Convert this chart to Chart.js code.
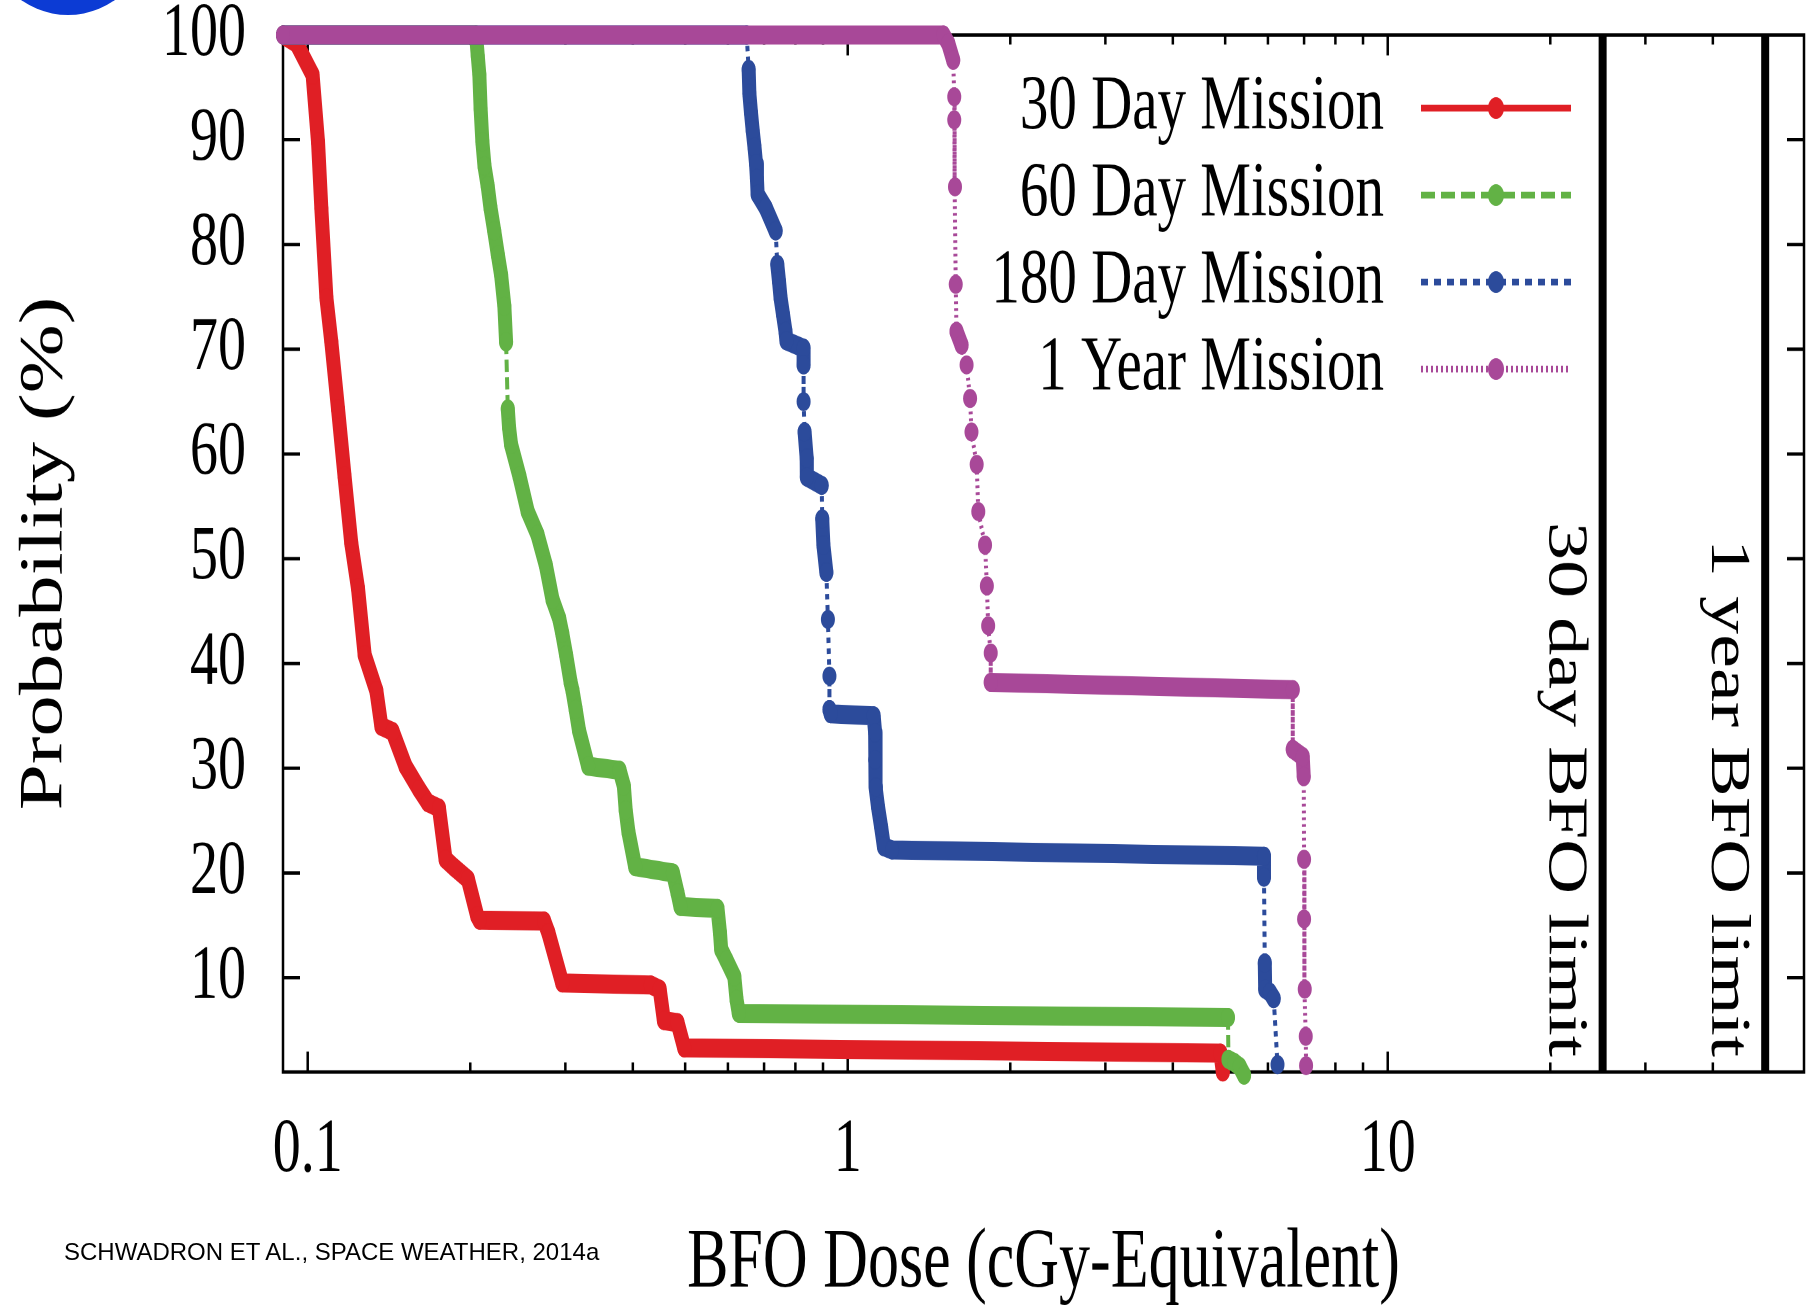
<!DOCTYPE html>
<html>
<head>
<meta charset="utf-8">
<title>BFO Dose probability</title>
<script src="https://cdn.jsdelivr.net/npm/chart.js@4/dist/chart.umd.min.js"></script>
<style>
    html, body { margin: 0; padding: 0; background: #fff; overflow: hidden; }
    #page { position: relative; width: 1811px; height: 1309px; overflow: hidden; }
    /* the original figure is stretched vertically, so the chart is drawn short and scaled up */
    #stretch { position: absolute; left: 0; top: 0; width: 1811px; height: 963px;
               transform: scaleY(1.3593); transform-origin: 0 0; }
    #logo { position: absolute; left: -13px; top: -147px; width: 162px; height: 162px;
            border-radius: 50%; background: #0c3bd4; }
    #source { position: absolute; left: 64px; top: 1238px; line-height: 24px;
              font: 24px "Liberation Sans", Arial, sans-serif; color: #000; white-space: nowrap; }
</style>
</head>
<body>
<div id="page">
    <div id="logo"></div>
    <div id="stretch"><canvas id="chart"></canvas></div>
    <div id="source">SCHWADRON ET AL., SPACE WEATHER, 2014a</div>
</div>
<script>
// Data (dose in cGy-Eq, probability in %)
const dose30 = [0.09, 0.0953, 0.1021, 0.1045, 0.106, 0.1083, 0.1106, 0.1138, 0.117, 0.1204, 0.1239, 0.1275, 0.134, 0.1369, 0.1436, 0.1517, 0.1608, 0.167, 0.175, 0.18, 0.187, 0.198, 0.206, 0.208, 0.274, 0.279, 0.296, 0.432, 0.4485, 0.4567, 0.484, 0.498, 4.9, 4.95];
const prob30 = [100, 99.2, 96.2, 89.8, 83.4, 74.9, 70.7, 64.3, 57.9, 51.5, 47.2, 40.8, 37.4, 34.0, 33.5, 30.2, 28.0, 26.7, 26.2, 21.3, 20.5, 19.4, 15.9, 15.5, 15.4, 14.3, 9.5, 9.3, 8.9, 5.9, 5.7, 3.3, 2.8, 1.0];

const dose60 = [0.09, 0.205, 0.2065, 0.2079, 0.209, 0.2106, 0.2125, 0.2154, 0.218, 0.2215, 0.225, 0.2281, 0.2313, 0.233, 0.2347, 0.236, 0.238, 0.2466, 0.2555, 0.2664, 0.276, 0.284, 0.2922, 0.296, 0.301, 0.3068, 0.3093, 0.3135, 0.318, 0.3306, 0.378, 0.385, 0.388, 0.3926, 0.404, 0.4746, 0.484, 0.49, 0.574, 0.58, 0.583, 0.596, 0.6166, 0.6225, 0.6285, 5.06, 5.07, 5.2, 5.32, 5.42];
const prob60 = [100, 100, 98, 96.2, 93, 89.8, 87.5, 85.6, 83.5, 81.3, 79, 77.1, 74.1, 70.7, 64.3, 62.5, 60.9, 57.9, 54.5, 52.3, 49.4, 46.1, 44.3, 42.9, 40.8, 38.2, 37.4, 35.6, 33.6, 30.2, 29.8, 28.3, 26, 23.9, 20.6, 20.0, 18.1, 16.8, 16.6, 14.3, 12.7, 11.7, 10.1, 7.9, 6.6, 6.2, 2.2, 1.9, 1.5, 0.7];

const dose180 = [0.09, 0.65, 0.6555, 0.6575, 0.662, 0.6668, 0.672, 0.6765, 0.679, 0.681, 0.705, 0.7355, 0.7405, 0.746, 0.751, 0.759, 0.767, 0.77, 0.8285, 0.8285, 0.8285, 0.832, 0.8395, 0.84, 0.895, 0.897, 0.9015, 0.913, 0.919, 0.925, 0.925, 0.93, 1.117, 1.124, 1.124, 1.128, 1.138, 1.153, 1.167, 1.208, 5.9, 5.9, 5.92, 5.93, 6.05, 6.15, 6.25];
const prob180 = [100, 100, 96.7, 94.4, 92.6, 90.9, 89.3, 87.7, 86.3, 84.8, 83.5, 81.3, 78.1, 76.5, 74.9, 73.3, 71.7, 70.8, 70.1, 68.5, 65.0, 62.1, 59.6, 57.8, 57.0, 53.8, 51.3, 48.7, 44.2, 38.8, 35.6, 35.2, 35.0, 33.4, 30.8, 28.2, 26.3, 24.4, 22.5, 22.2, 21.6, 19.6, 11.4, 8.9, 8.6, 8.0, 1.7];

const dose1yr = [0.09, 1.504, 1.535, 1.568, 1.575, 1.575, 1.58, 1.585, 1.59, 1.625, 1.66, 1.685, 1.695, 1.733, 1.745, 1.796, 1.81, 1.82, 1.84, 1.84, 6.67, 6.67, 6.96, 6.99, 7.0, 7.0, 7.02, 7.05, 7.06];
const prob1yr = [100, 100, 99.2, 97.6, 94.1, 91.9, 85.5, 76.2, 71.7, 70.4, 68.5, 65.3, 62.1, 59.0, 54.5, 51.3, 47.4, 43.6, 41.0, 38.2, 37.5, 31.8, 31.1, 29.2, 21.3, 15.6, 8.9, 4.4, 1.6];

const missionLabels = ['30 Day Mission', '60 Day Mission', '180 Day Mission', '1 Year Mission'];
const missionColors = ['#e01f25', '#62b245', '#2c4b9b', '#a84898'];

const xTickValues = [0.1, 0.2, 0.3, 0.4, 0.5, 0.6, 0.7, 0.8, 0.9, 1, 2, 3, 4, 5, 6, 7, 8, 9, 10, 20, 30, 40, 50];
const yTickValues = [10, 20, 30, 40, 50, 60, 70, 80, 90, 100];

const limitDoses = [25, 50];
const limitLabels = ['30 day BFO limit', '1 year BFO limit'];

const SERIF = '"Liberation Serif", "Times New Roman", serif';
const THICK = 14;
const THIN = 4;

const isDecade = v => Math.abs(Math.log10(v) - Math.round(Math.log10(v))) < 1e-9;

// dense runs of points look like a thick line, long vertical jumps show the thin dashed line
function isThin(ctx, gap) {
    const dx = Math.abs(ctx.p1.x - ctx.p0.x);
    const dy = Math.abs(ctx.p1.y - ctx.p0.y);
    return dy > 2 * dx && Math.hypot(dx, dy) > gap;
}

function makeDataset(i, doses, probs, gap, dash, order) {
    return {
        label: missionLabels[i],
        data: doses.map((d, k) => ({ x: d, y: probs[k] })),
        borderColor: missionColors[i],
        backgroundColor: missionColors[i],
        borderWidth: THICK,
        borderCapStyle: 'round',
        borderJoinStyle: 'round',
        pointRadius: 7,
        pointBorderWidth: 0,
        pointBackgroundColor: missionColors[i],
        clip: false,
        order: order,
        segment: {
            borderWidth: ctx => isThin(ctx, gap) ? THIN : THICK,
            borderDash: ctx => isThin(ctx, gap) ? dash : [],
            borderCapStyle: ctx => isThin(ctx, gap) ? 'butt' : 'round'
        }
    };
}

const legendDashes = [[], [14, 6], [7, 6], [2, 3]];

// frame, inward tick marks and the two BFO limit lines
const framePlugin = {
    id: 'frame',
    beforeDatasetsDraw(chart) {
        const { ctx, chartArea: a, scales: { x, y } } = chart;
        ctx.save();
        ctx.strokeStyle = '#000';
        ctx.lineWidth = 2.5;
        ctx.strokeRect(a.left, a.top, a.right - a.left, a.bottom - a.top);
        ctx.beginPath();
        xTickValues.forEach(v => {
            const px = x.getPixelForValue(v);
            const len = isDecade(v) ? 15 : 7;
            ctx.moveTo(px, a.bottom); ctx.lineTo(px, a.bottom - len);
            ctx.moveTo(px, a.top); ctx.lineTo(px, a.top + len);
        });
        yTickValues.forEach(v => {
            const py = y.getPixelForValue(v);
            ctx.moveTo(a.left, py); ctx.lineTo(a.left + 17, py);
            ctx.moveTo(a.right, py); ctx.lineTo(a.right - 17, py);
        });
        ctx.stroke();

        ctx.lineWidth = 8;
        ctx.fillStyle = '#000';
        ctx.font = '56px ' + SERIF;
        limitDoses.forEach((d, i) => {
            const px = x.getPixelForValue(d);
            ctx.beginPath();
            ctx.moveTo(px, a.top);
            ctx.lineTo(px, a.bottom);
            ctx.stroke();
            ctx.save();
            ctx.translate(px - 53, a.bottom - 11);
            ctx.rotate(Math.PI / 2);
            ctx.textAlign = 'right';
            ctx.textBaseline = 'alphabetic';
            ctx.fillText(limitLabels[i], 0, 0);
            ctx.restore();
        });
        ctx.restore();
    }
};

const legendPlugin = {
    id: 'sideLegend',
    afterDraw(chart) {
        const { ctx } = chart;
        chart.data.datasets.forEach((ds, i) => {
            const rowY = 79.5 + i * 64;
            ctx.save();
            ctx.font = '57px ' + SERIF;
            ctx.fillStyle = '#000';
            ctx.textAlign = 'right';
            ctx.textBaseline = 'middle';
            ctx.fillText(ds.label, 1384, rowY);
            ctx.strokeStyle = ds.borderColor;
            ctx.lineWidth = 5;
            ctx.setLineDash(legendDashes[i]);
            ctx.beginPath();
            ctx.moveTo(1421, rowY);
            ctx.lineTo(1571, rowY);
            ctx.stroke();
            ctx.fillStyle = ds.borderColor;
            ctx.beginPath();
            ctx.arc(1496, rowY, 8, 0, Math.PI * 2);
            ctx.fill();
            ctx.restore();
        });
    }
};

new Chart(document.getElementById('chart'), {
    type: 'line',
    data: {
        datasets: [
            makeDataset(0, dose30, prob30, Infinity, [], 4),
            makeDataset(1, dose60, prob60, 29, [9, 4], 3),
            makeDataset(2, dose180, prob180, 22, [4, 4], 2),
            makeDataset(3, dose1yr, prob1yr, 15, [2, 3], 1)
        ]
    },
    options: {
        responsive: true,
        maintainAspectRatio: false,
        devicePixelRatio: 2,
        animation: false,
        events: [],
        layout: { padding: { top: 25.75, right: 3, bottom: 0, left: 0 } },
        plugins: { legend: { display: false }, tooltip: { enabled: false } },
        scales: {
            x: {
                type: 'logarithmic',
                min: 0.09,
                max: 59,
                grid: { display: false, drawTicks: false },
                border: { display: false },
                ticks: {
                    autoSkip: false,
                    maxRotation: 0,
                    padding: 24.6,
                    color: '#000',
                    font: { family: SERIF, size: 56 },
                    callback: v => isDecade(v) ? String(v) : ''
                },
                afterBuildTicks: s => { s.ticks = xTickValues.map(v => ({ value: v })); },
                afterFit: s => { s.height = 174.4; s.paddingLeft = 0; s.paddingRight = 0; },
                title: {
                    display: true,
                    text: 'BFO Dose (cGy-Equivalent)',
                    color: '#000',
                    font: { family: SERIF, size: 62, lineHeight: 1 },
                    padding: { top: 0, bottom: 2 }
                }
            },
            y: {
                min: 1,
                max: 100,
                grid: { display: false, drawTicks: false },
                border: { display: false },
                ticks: {
                    padding: 37,
                    color: '#000',
                    font: { family: SERIF, size: 56 }
                },
                afterBuildTicks: s => { s.ticks = yTickValues.map(v => ({ value: v })); },
                afterFit: s => { s.width = 283; s.paddingTop = 0; s.paddingBottom = 0; },
                title: {
                    display: true,
                    text: 'Probability (%)',
                    color: '#000',
                    font: { family: SERIF, size: 61, lineHeight: 1 },
                    padding: { top: 15, bottom: 0 }
                }
            }
        }
    },
    plugins: [framePlugin, legendPlugin]
});
</script>
</body>
</html>
